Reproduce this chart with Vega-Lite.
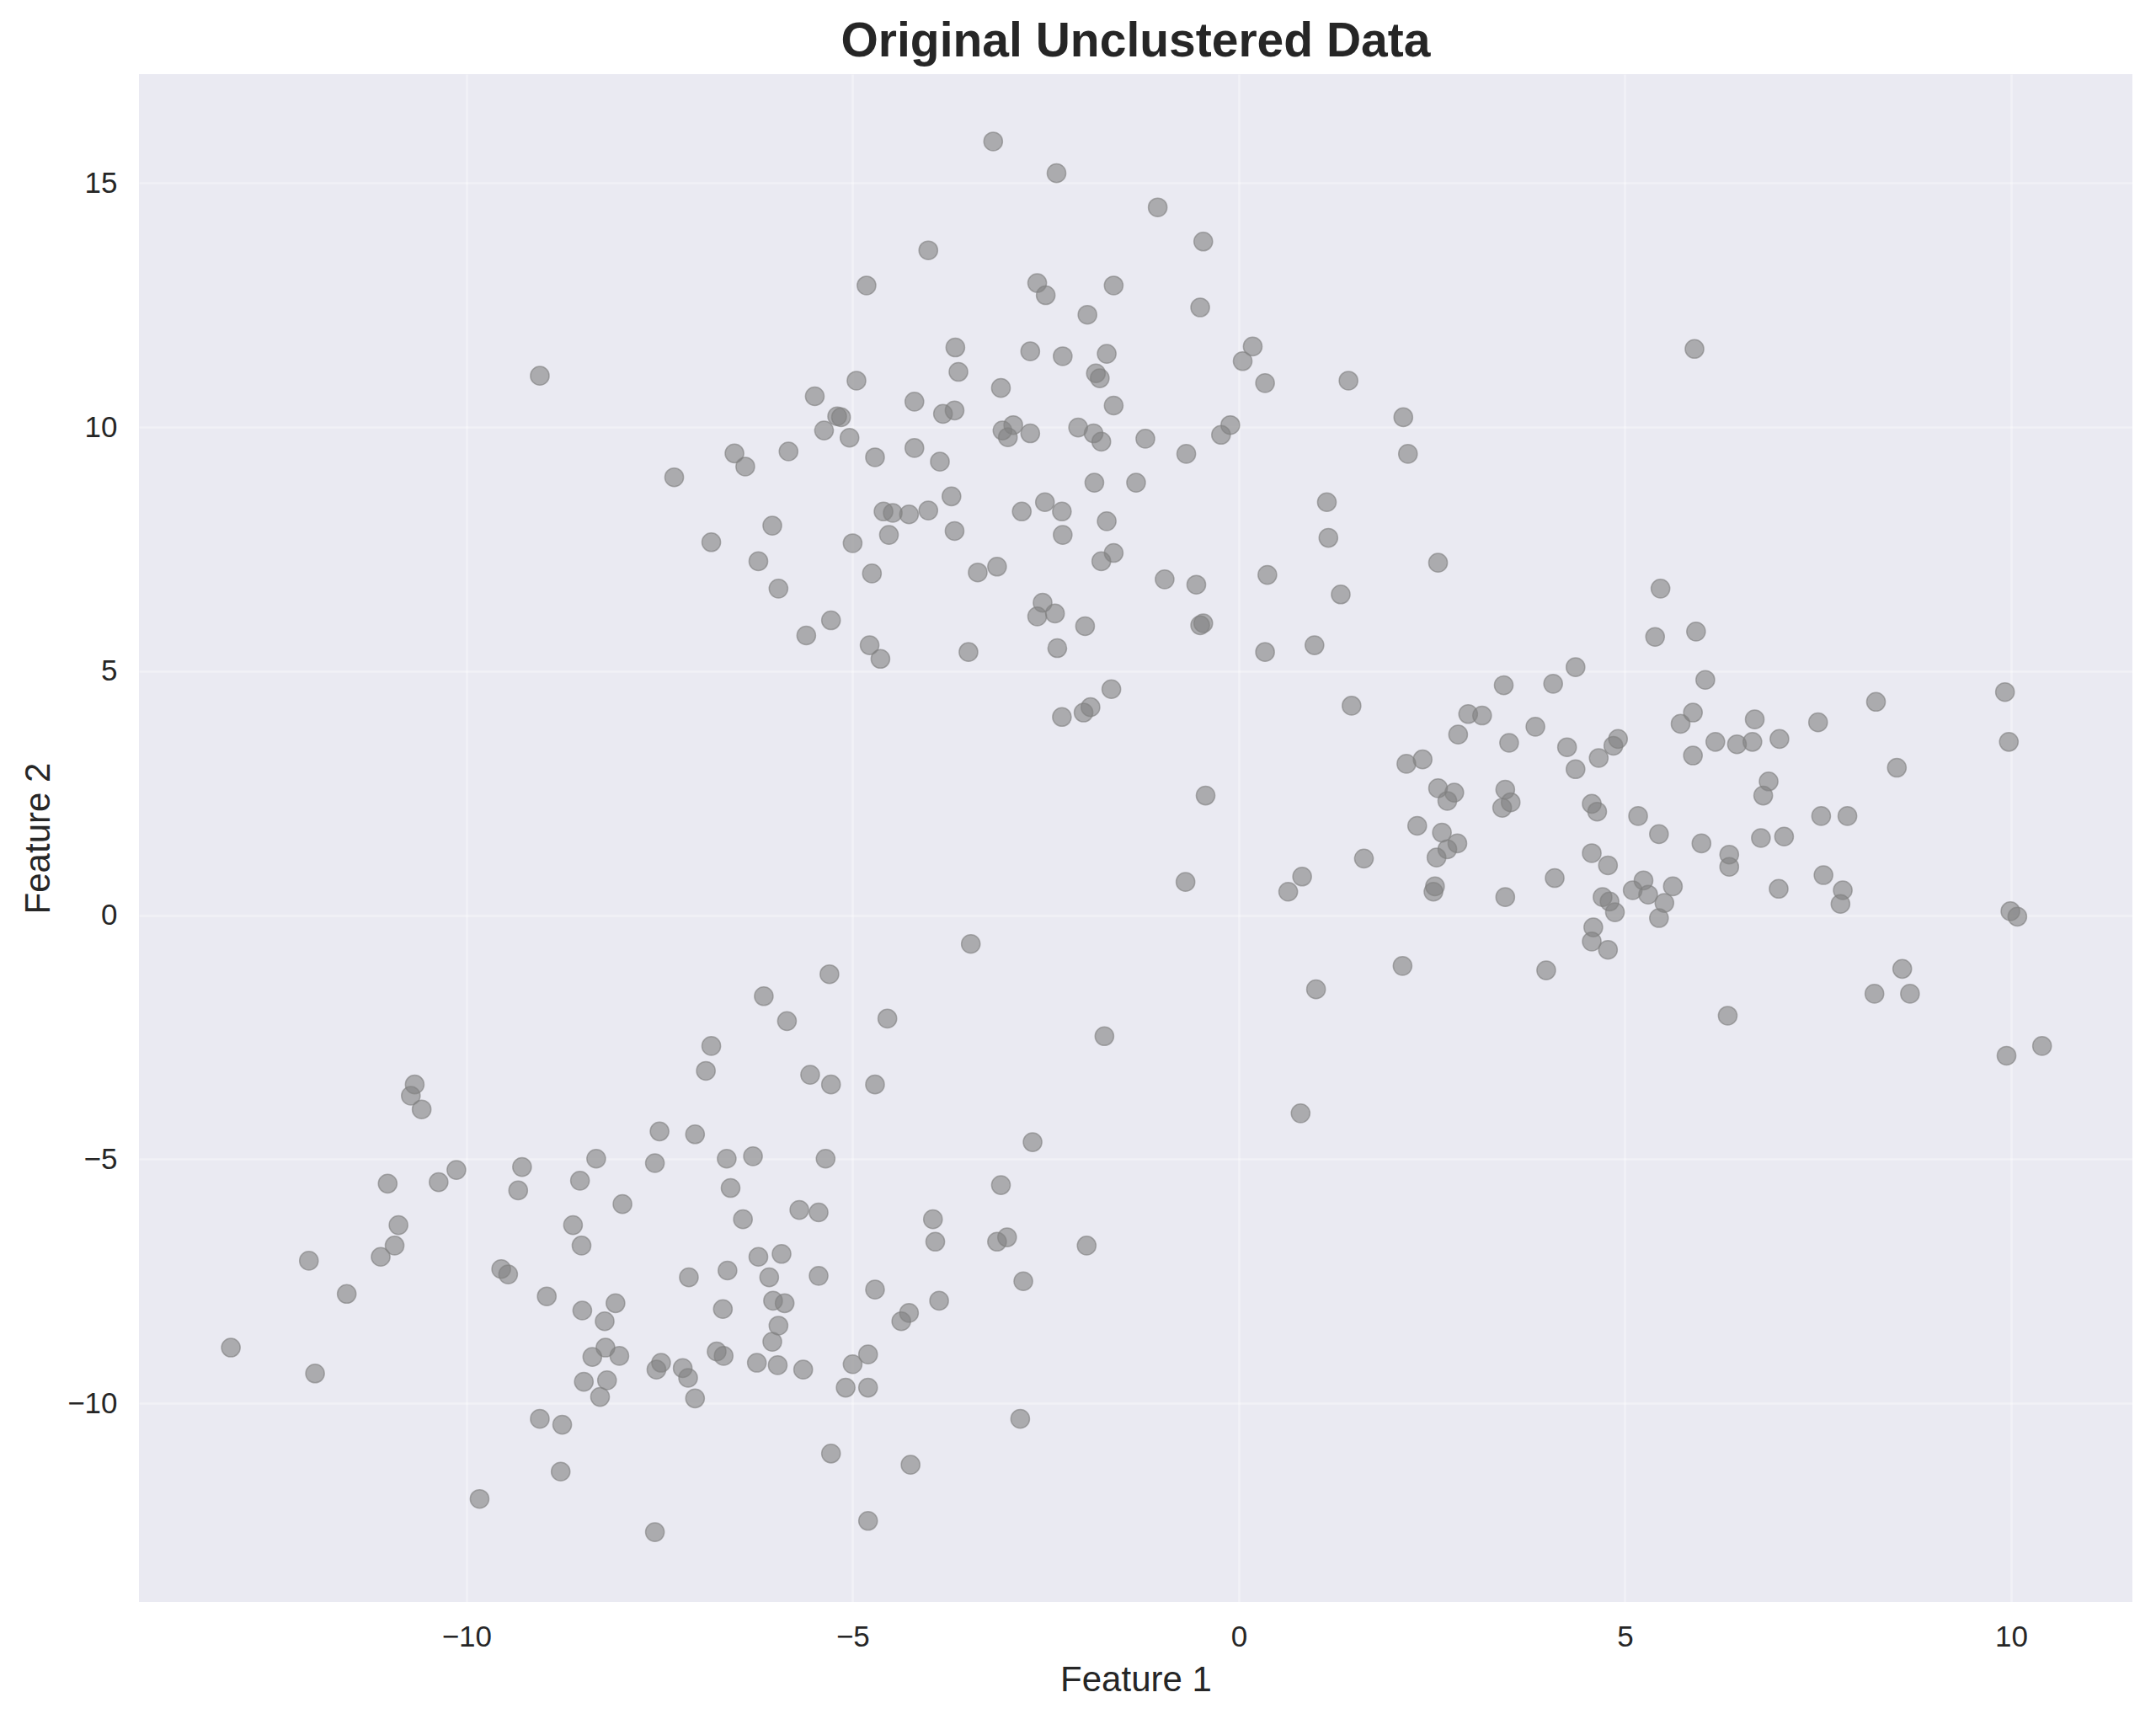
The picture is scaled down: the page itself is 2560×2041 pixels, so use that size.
{
  "$schema": "https://vega.github.io/schema/vega-lite/v6.json",
  "width": 2367,
  "height": 1814,
  "autosize": {"type": "none"},
  "padding": {"left": 165, "top": 88, "right": 28, "bottom": 139},
  "background": "#ffffff",
  "title": {
    "text": "Original Unclustered Data",
    "font": "Liberation Sans",
    "fontSize": 57,
    "fontWeight": "bold",
    "color": "#262626",
    "anchor": "middle",
    "offset": 9
  },
  "config": {
    "view": {"fill": "#EAEAF2", "stroke": null},
    "axis": {
      "domain": false,
      "ticks": false,
      "tickSize": 0,
      "labelFont": "Liberation Sans",
      "labelFontSize": 35,
      "labelColor": "#262626",
      "titleFont": "Liberation Sans",
      "titleFontSize": 42,
      "titleFontWeight": "normal",
      "titleColor": "#262626",
      "gridColor": "#ffffff",
      "gridOpacity": 0.35,
      "gridWidth": 2.7
    }
  },
  "data": {
    "values": [
      {"x": -3.18, "y": 15.85}, {"x": -2.36, "y": 15.2}, {"x": -1.05, "y": 14.5}, {"x": -0.46, "y": 13.8},
      {"x": -4.02, "y": 13.62}, {"x": -4.82, "y": 12.9}, {"x": -2.61, "y": 12.95}, {"x": -1.62, "y": 12.9},
      {"x": -2.5, "y": 12.7}, {"x": -0.5, "y": 12.45}, {"x": -9.05, "y": 11.05}, {"x": -3.67, "y": 11.63},
      {"x": -2.7, "y": 11.55}, {"x": -2.28, "y": 11.45}, {"x": -1.96, "y": 12.3}, {"x": -1.71, "y": 11.5},
      {"x": -3.63, "y": 11.13}, {"x": -1.85, "y": 11.1}, {"x": -1.8, "y": 11.0}, {"x": 0.18, "y": 11.65},
      {"x": 0.05, "y": 11.35}, {"x": 0.34, "y": 10.9}, {"x": 1.42, "y": 10.95}, {"x": 5.9, "y": 11.6},
      {"x": -5.49, "y": 10.63}, {"x": -4.95, "y": 10.95}, {"x": -5.2, "y": 10.22}, {"x": -5.15, "y": 10.2},
      {"x": -4.2, "y": 10.52}, {"x": -3.08, "y": 10.8}, {"x": -5.37, "y": 9.93}, {"x": -5.04, "y": 9.78},
      {"x": -3.83, "y": 10.27}, {"x": -3.68, "y": 10.34}, {"x": -1.62, "y": 10.44}, {"x": -2.08, "y": 9.99},
      {"x": -1.88, "y": 9.87}, {"x": -1.78, "y": 9.7}, {"x": -3.06, "y": 9.93}, {"x": -2.99, "y": 9.79},
      {"x": -2.92, "y": 10.04}, {"x": -2.7, "y": 9.87}, {"x": -1.21, "y": 9.76}, {"x": -0.23, "y": 9.84},
      {"x": -0.11, "y": 10.04}, {"x": 2.13, "y": 10.2}, {"x": 2.19, "y": 9.45}, {"x": -6.53, "y": 9.46},
      {"x": -6.39, "y": 9.19}, {"x": -5.83, "y": 9.5}, {"x": -4.71, "y": 9.38}, {"x": -4.2, "y": 9.57},
      {"x": -3.87, "y": 9.29}, {"x": -0.68, "y": 9.45}, {"x": -7.31, "y": 8.97}, {"x": -3.72, "y": 8.58},
      {"x": -1.87, "y": 8.86}, {"x": -1.33, "y": 8.86}, {"x": 1.14, "y": 8.46}, {"x": -4.6, "y": 8.27},
      {"x": -4.48, "y": 8.24}, {"x": -4.27, "y": 8.21}, {"x": -4.02, "y": 8.29}, {"x": -2.81, "y": 8.27},
      {"x": -2.51, "y": 8.46}, {"x": -2.29, "y": 8.27}, {"x": -3.68, "y": 7.87}, {"x": -1.71, "y": 8.07},
      {"x": -6.04, "y": 7.98}, {"x": -4.53, "y": 7.79}, {"x": -2.28, "y": 7.79}, {"x": 1.16, "y": 7.73},
      {"x": -6.83, "y": 7.64}, {"x": -5.0, "y": 7.62}, {"x": -1.62, "y": 7.42}, {"x": -1.78, "y": 7.25},
      {"x": -6.22, "y": 7.25}, {"x": -3.13, "y": 7.14}, {"x": -3.38, "y": 7.02}, {"x": 2.58, "y": 7.22},
      {"x": -4.75, "y": 7.0}, {"x": -0.96, "y": 6.88}, {"x": 0.37, "y": 6.97}, {"x": -0.55, "y": 6.77},
      {"x": -5.96, "y": 6.69}, {"x": 1.32, "y": 6.57}, {"x": -2.54, "y": 6.4}, {"x": -2.61, "y": 6.12},
      {"x": -2.38, "y": 6.18}, {"x": -0.46, "y": 5.98}, {"x": -0.5, "y": 5.94}, {"x": -5.28, "y": 6.04},
      {"x": -1.99, "y": 5.92}, {"x": -5.6, "y": 5.73}, {"x": -4.78, "y": 5.53}, {"x": -2.35, "y": 5.47},
      {"x": 0.98, "y": 5.53}, {"x": -3.5, "y": 5.39}, {"x": 0.34, "y": 5.39}, {"x": -4.64, "y": 5.25},
      {"x": -1.65, "y": 4.63}, {"x": -1.92, "y": 4.26}, {"x": -2.01, "y": 4.15}, {"x": -2.29, "y": 4.06},
      {"x": 1.46, "y": 4.29}, {"x": -0.43, "y": 2.45}, {"x": -0.69, "y": 0.68},
      {"x": 5.46, "y": 6.69}, {"x": 5.92, "y": 5.81}, {"x": 5.39, "y": 5.7}, {"x": 4.36, "y": 5.08},
      {"x": 6.04, "y": 4.82}, {"x": 3.43, "y": 4.71}, {"x": 4.07, "y": 4.74}, {"x": 9.92, "y": 4.57},
      {"x": 8.25, "y": 4.37}, {"x": 2.97, "y": 4.12}, {"x": 3.15, "y": 4.09}, {"x": 5.88, "y": 4.15},
      {"x": 5.72, "y": 3.92}, {"x": 6.68, "y": 4.01}, {"x": 7.5, "y": 3.95}, {"x": 3.84, "y": 3.86},
      {"x": 2.84, "y": 3.7}, {"x": 4.91, "y": 3.61}, {"x": 3.5, "y": 3.53}, {"x": 6.17, "y": 3.55},
      {"x": 6.45, "y": 3.5}, {"x": 6.65, "y": 3.55}, {"x": 7.0, "y": 3.61}, {"x": 9.97, "y": 3.55},
      {"x": 4.25, "y": 3.44}, {"x": 4.85, "y": 3.47}, {"x": 4.66, "y": 3.22}, {"x": 2.38, "y": 3.19},
      {"x": 2.17, "y": 3.1}, {"x": 5.88, "y": 3.27}, {"x": 4.36, "y": 2.99}, {"x": 8.52, "y": 3.02},
      {"x": 6.86, "y": 2.74}, {"x": 2.58, "y": 2.6}, {"x": 2.79, "y": 2.51}, {"x": 3.45, "y": 2.57},
      {"x": 6.79, "y": 2.45}, {"x": 2.7, "y": 2.34}, {"x": 4.57, "y": 2.28}, {"x": 3.52, "y": 2.31},
      {"x": 3.41, "y": 2.2}, {"x": 4.64, "y": 2.12}, {"x": 5.17, "y": 2.03}, {"x": 7.54, "y": 2.03},
      {"x": 7.88, "y": 2.03}, {"x": 2.31, "y": 1.83}, {"x": 5.44, "y": 1.66}, {"x": 2.63, "y": 1.69},
      {"x": 7.06, "y": 1.61}, {"x": 6.76, "y": 1.58}, {"x": 5.99, "y": 1.47}, {"x": 2.83, "y": 1.47},
      {"x": 2.7, "y": 1.35}, {"x": 2.56, "y": 1.18}, {"x": 4.57, "y": 1.27}, {"x": 6.35, "y": 1.24},
      {"x": 1.62, "y": 1.16}, {"x": 4.78, "y": 1.02}, {"x": 6.35, "y": 0.99}, {"x": 7.57, "y": 0.82},
      {"x": 4.09, "y": 0.76}, {"x": 0.82, "y": 0.79}, {"x": 5.24, "y": 0.71}, {"x": 5.62, "y": 0.59},
      {"x": 5.1, "y": 0.51}, {"x": 5.3, "y": 0.42}, {"x": 6.99, "y": 0.54}, {"x": 7.82, "y": 0.51},
      {"x": 2.54, "y": 0.59}, {"x": 2.52, "y": 0.48}, {"x": 0.64, "y": 0.48}, {"x": 3.45, "y": 0.37},
      {"x": 4.71, "y": 0.37}, {"x": 4.8, "y": 0.28}, {"x": 5.51, "y": 0.25}, {"x": 7.79, "y": 0.23},
      {"x": 4.87, "y": 0.06}, {"x": 5.44, "y": -0.06}, {"x": 9.99, "y": 0.08}, {"x": 10.08, "y": -0.03},
      {"x": 4.59, "y": -0.25}, {"x": 4.57, "y": -0.54}, {"x": 4.78, "y": -0.71}, {"x": 2.12, "y": -1.04},
      {"x": 3.98, "y": -1.13}, {"x": 8.59, "y": -1.1}, {"x": 8.23, "y": -1.61}, {"x": 8.69, "y": -1.61},
      {"x": 1.0, "y": -1.52}, {"x": 6.33, "y": -2.06}, {"x": 9.94, "y": -2.88}, {"x": 10.4, "y": -2.68},
      {"x": 0.8, "y": -4.06},
      {"x": -3.47, "y": -0.59}, {"x": -5.3, "y": -1.21}, {"x": -6.15, "y": -1.66}, {"x": -4.55, "y": -2.12},
      {"x": -5.85, "y": -2.17}, {"x": -1.74, "y": -2.48}, {"x": -6.83, "y": -2.68}, {"x": -10.67, "y": -3.47},
      {"x": -5.55, "y": -3.27}, {"x": -6.9, "y": -3.19}, {"x": -10.72, "y": -3.7}, {"x": -5.28, "y": -3.47},
      {"x": -4.71, "y": -3.47}, {"x": -10.58, "y": -3.98}, {"x": -7.5, "y": -4.43}, {"x": -7.04, "y": -4.49},
      {"x": -2.67, "y": -4.65}, {"x": -6.29, "y": -4.94}, {"x": -8.32, "y": -4.99}, {"x": -6.63, "y": -4.99},
      {"x": -5.35, "y": -4.99}, {"x": -9.28, "y": -5.16}, {"x": -10.13, "y": -5.22}, {"x": -7.56, "y": -5.08},
      {"x": -10.36, "y": -5.47}, {"x": -11.02, "y": -5.5}, {"x": -8.53, "y": -5.44}, {"x": -3.08, "y": -5.53},
      {"x": -9.33, "y": -5.64}, {"x": -6.58, "y": -5.59}, {"x": -7.98, "y": -5.92}, {"x": -5.69, "y": -6.04},
      {"x": -5.44, "y": -6.09}, {"x": -10.88, "y": -6.35}, {"x": -6.42, "y": -6.23}, {"x": -3.96, "y": -6.23},
      {"x": -8.62, "y": -6.35}, {"x": -3.13, "y": -6.69}, {"x": -3.0, "y": -6.6}, {"x": -3.93, "y": -6.69},
      {"x": -10.93, "y": -6.77}, {"x": -8.51, "y": -6.77}, {"x": -1.97, "y": -6.77}, {"x": -11.11, "y": -7.0},
      {"x": -6.22, "y": -7.0}, {"x": -5.92, "y": -6.94}, {"x": -12.04, "y": -7.08}, {"x": -9.55, "y": -7.25},
      {"x": -9.46, "y": -7.36}, {"x": -6.62, "y": -7.28}, {"x": -7.12, "y": -7.42}, {"x": -6.08, "y": -7.42},
      {"x": -5.44, "y": -7.39}, {"x": -2.79, "y": -7.5}, {"x": -4.71, "y": -7.67}, {"x": -11.55, "y": -7.76},
      {"x": -8.96, "y": -7.81}, {"x": -3.88, "y": -7.9}, {"x": -8.07, "y": -7.95}, {"x": -6.03, "y": -7.9},
      {"x": -5.88, "y": -7.95}, {"x": -8.5, "y": -8.1}, {"x": -6.68, "y": -8.07}, {"x": -4.27, "y": -8.15},
      {"x": -8.21, "y": -8.32}, {"x": -5.96, "y": -8.41}, {"x": -4.37, "y": -8.32}, {"x": -6.04, "y": -8.74},
      {"x": -13.05, "y": -8.86}, {"x": -8.2, "y": -8.86}, {"x": -6.76, "y": -8.94}, {"x": -6.67, "y": -9.03},
      {"x": -4.8, "y": -9.0}, {"x": -8.02, "y": -9.03}, {"x": -8.37, "y": -9.05}, {"x": -7.48, "y": -9.17},
      {"x": -5.0, "y": -9.2}, {"x": -6.24, "y": -9.17}, {"x": -5.97, "y": -9.22}, {"x": -7.54, "y": -9.31},
      {"x": -7.2, "y": -9.28}, {"x": -5.64, "y": -9.31}, {"x": -11.96, "y": -9.39}, {"x": -7.13, "y": -9.48},
      {"x": -8.48, "y": -9.56}, {"x": -8.18, "y": -9.53}, {"x": -5.09, "y": -9.68}, {"x": -4.8, "y": -9.68},
      {"x": -7.04, "y": -9.9}, {"x": -8.27, "y": -9.87}, {"x": -9.05, "y": -10.32}, {"x": -8.76, "y": -10.44},
      {"x": -2.83, "y": -10.32}, {"x": -5.28, "y": -11.03}, {"x": -4.25, "y": -11.26}, {"x": -8.78, "y": -11.4},
      {"x": -9.83, "y": -11.96}, {"x": -4.8, "y": -12.41}, {"x": -7.56, "y": -12.64}
    ]
  },
  "mark": {
    "type": "point",
    "filled": true,
    "shape": "circle",
    "size": 490,
    "color": "#808080",
    "fillOpacity": 0.6,
    "stroke": "#808080",
    "strokeOpacity": 0.6,
    "strokeWidth": 1.5
  },
  "encoding": {
    "x": {
      "field": "x",
      "type": "quantitative",
      "title": "Feature 1",
      "scale": {"domain": [-14.24, 11.57], "nice": false, "zero": false},
      "axis": {"values": [-10, -5, 0, 5, 10], "labelPadding": 24, "titlePadding": 13}
    },
    "y": {
      "field": "y",
      "type": "quantitative",
      "title": "Feature 2",
      "scale": {"domain": [-14.07, 17.23], "nice": false, "zero": false},
      "axis": {"values": [-10, -5, 0, 5, 10, 15], "labelPadding": 26, "titlePadding": 12}
    }
  }
}
